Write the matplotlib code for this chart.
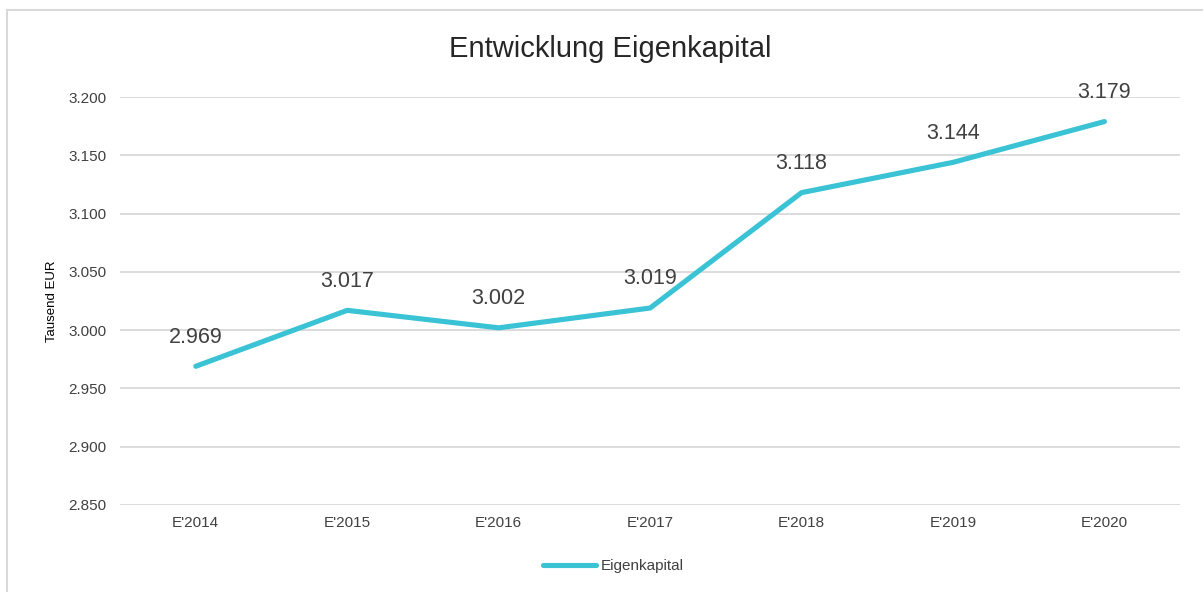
import matplotlib.pyplot as plt
from matplotlib.patches import Rectangle
from matplotlib.ticker import FuncFormatter

plt.rcParams['font.family'] = ['Liberation Sans', 'DejaVu Sans']

years = ["E'2014", "E'2015", "E'2016", "E'2017", "E'2018", "E'2019", "E'2020"]
eigenkapital = [2969, 3017, 3002, 3019, 3118, 3144, 3179]  # Tausend EUR

text_col = '#404040'
line_col = '#3AC3D5'


def de_fmt(v, pos=None):
    # German thousands separator
    return f'{v:,.0f}'.replace(',', '.')


fig = plt.figure(figsize=(12.03, 5.92), dpi=100)
ax = fig.add_axes([0.0998, 0.147, 0.8812, 0.689])

x = range(len(years))
ax.plot(x, eigenkapital, color=line_col, lw=3.7, solid_capstyle='round',
        solid_joinstyle='round', label='Eigenkapital', zorder=3)
for i, v in zip(x, eigenkapital):
    ax.annotate(de_fmt(v), (i, v), xytext=(0, 21), textcoords='offset points',
                ha='center', va='center', fontsize=15.5, color=text_col)

ax.set_xlim(-0.5, len(years) - 0.5)
ax.set_ylim(2850, 3200)
ax.set_yticks(range(2850, 3201, 50))
ax.yaxis.set_major_formatter(FuncFormatter(de_fmt))
ax.set_xticks(list(x))
ax.set_xticklabels(years)
ax.tick_params(axis='both', length=0, labelsize=11, labelcolor=text_col)
ax.tick_params(axis='y', pad=10)
ax.tick_params(axis='x', pad=8)
ax.grid(axis='y', color='#d9d9d9', lw=1.3)
ax.set_axisbelow(True)
for s in ax.spines.values():
    s.set_visible(False)

ax.set_ylabel('Tausend EUR', fontsize=9.5, color='black', labelpad=7)
fig.text(0.507, 0.917, 'Entwicklung Eigenkapital', ha='center', va='center',
         fontsize=21, color='#262626')

fig.legend(loc='center', bbox_to_anchor=(0.51, 0.044), frameon=False,
           fontsize=11, handlelength=3.5, handletextpad=0.3,
           labelcolor=text_col)

# outer chart border
fig.patches.append(Rectangle((0.0058, -0.1), 1.1, 1.083, transform=fig.transFigure,
                             fill=False, edgecolor='#d9d9d9', lw=1.5))

fig.savefig('out.png', dpi=100)
